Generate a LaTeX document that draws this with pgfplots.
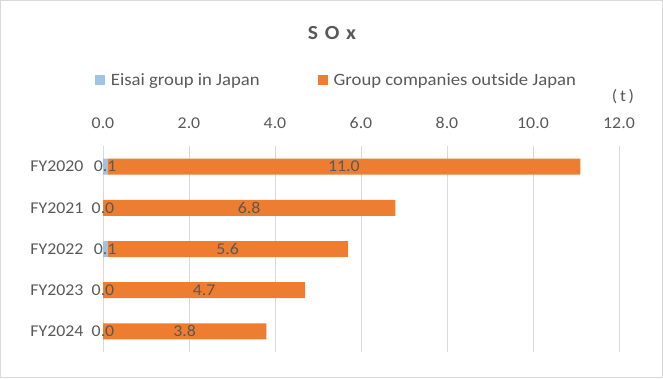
\documentclass[border=0pt]{standalone}
\usepackage{pgfplots}
\pgfplotsset{compat=1.18}
\usepackage{fontspec}
\setmainfont{Carlito}[FakeStretch=1.08]
\definecolor{eblue}{HTML}{9DC3E6}
\definecolor{eorange}{HTML}{ED7D31}
\definecolor{tgray}{HTML}{595959}
\definecolor{ggray}{HTML}{D9D9D9}
\newcommand{\tfont}{\fontsize{16.5}{18}\selectfont}
\newcommand{\lfont}{\fontsize{17.3}{19}\selectfont}
\begin{document}
\begin{tikzpicture}[x=1pt,y=1pt]
\draw[ggray, line width=1pt] (0.5,0.5) rectangle (662.5,377.5);
\node[tgray, font=\fontsize{20}{22}\selectfont\bfseries] at (332,345) {S\,\,O\,\,x};
\node[tgray, font=\tfont] at (623,281) {(\,t\,)};
\begin{axis}[at={(103pt,26pt)}, anchor=south west, scale only axis,
  width=516pt, height=206pt,
  xbar stacked, bar width=16pt,
  xmin=0, xmax=12, ymin=-0.5, ymax=4.5,
  xtick={0,2,...,12}, ytick={0,...,4},
  yticklabels={FY2024,FY2023,FY2022,FY2021,FY2020},
  xticklabel pos=upper,
  xmajorgrids, grid style={ggray, line width=1pt},
  axis line style={draw=none}, major tick length=0pt,
  ticklabel style={text=tgray, font=\tfont},
  xticklabel style={yshift=14pt, /pgf/number format/fixed, /pgf/number format/fixed zerofill,
    /pgf/number format/precision=1, /pgf/number format/assume math mode=true},
  yticklabel style={xshift=-16pt},
  legend style={at={(0.4525,1.32)}, anchor=center, draw=none, fill=none,
    legend columns=2, font=\lfont, text=tgray,
    /tikz/every odd column/.append style={column sep=4pt},
    /tikz/every even column/.append style={column sep=56pt}},
  legend image code/.code={\fill[#1] (0pt,-5pt) rectangle (10pt,5pt);},
]
\addplot[fill=eblue, draw=none] coordinates {(0.1,4) (0.0,3) (0.1,2) (0.0,1) (0.0,0)};
\addlegendentry{Eisai group in Japan}
\addplot[fill=eorange, draw=none] coordinates {(11.0,4) (6.8,3) (5.6,2) (4.7,1) (3.8,0)};
\addlegendentry{Group companies outside Japan}
\end{axis}
\begin{axis}[at={(103pt,26pt)}, anchor=south west, scale only axis,
  width=516pt, height=206pt, hide axis,
  xmin=0, xmax=12, ymin=-0.5, ymax=4.5]
\addplot[only marks, mark=none, point meta=explicit,
  nodes near coords={\pgfmathprintnumber[fixed, fixed zerofill, precision=1, assume math mode=true]{\pgfplotspointmeta}},
  every node near coord/.style={anchor=center, text=tgray, font=\tfont}]
  coordinates {(0.05,4) [0.1] (0,3) [0.0] (0.05,2) [0.1] (0,1) [0.0] (0,0) [0.0]
    (5.6,4) [11.0] (3.4,3) [6.8] (2.9,2) [5.6] (2.35,1) [4.7] (1.9,0) [3.8]};
\end{axis}
\end{tikzpicture}
\end{document}
